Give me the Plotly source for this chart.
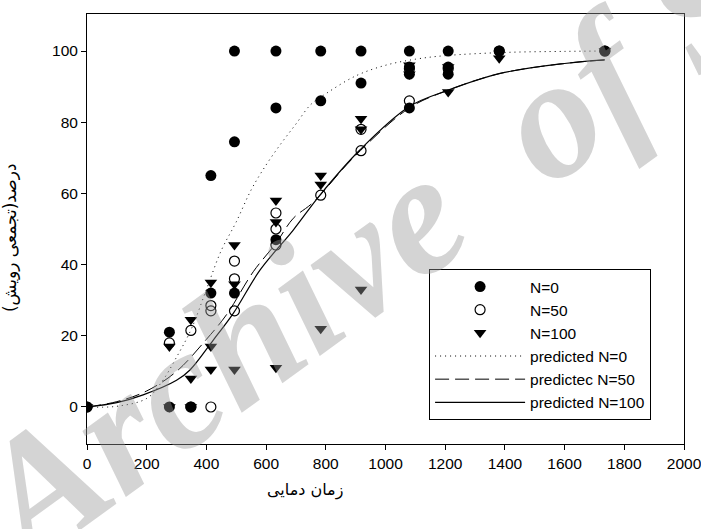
import plotly.graph_objects as go

# ---- observed data ----
n0_x = [0, 276, 276, 348, 415, 415, 494, 494, 494, 633, 633, 633, 783, 783, 918, 918,
        1080, 1080, 1080, 1080, 1210, 1210, 1210, 1381, 1735]
n0_y = [0, 21, 0, 0, 65, 32, 100, 74.5, 32, 100, 84, 47, 100, 86, 100, 91,
        100, 95.5, 93.5, 84, 100, 95.5, 93.5, 100, 100]

n50_x = [0, 276, 348, 348, 415, 415, 415, 494, 494, 494, 633, 633, 633, 783, 918, 918,
         1080, 1080, 1210, 1381, 1735]
n50_y = [0, 18, 21.5, 0, 28.5, 27, 0, 41, 36, 27, 54.5, 50, 45.5, 59.5, 72, 78,
         86, 95, 95, 100, 100]

n100_x = [0, 276, 276, 348, 348, 348, 415, 415, 415, 494, 494, 494, 633, 633, 633,
          783, 783, 783, 918, 918, 918, 1080, 1080, 1210, 1210, 1381, 1735]
n100_y = [0, 17, 0, 24.5, 8, 0, 35, 17, 10.5, 45.5, 34.5, 10.5, 58, 52, 11,
          65, 62.5, 22, 81, 78, 33, 96, 93.5, 95.5, 88.5, 98, 100]

# ---- predicted curves ----
p0_x = [0, 100, 200, 250, 300, 350, 400, 450, 500, 550, 600, 650, 700, 750, 800, 900,
        1000, 1100, 1200, 1400, 1600, 1735]
p0_y = [0, 0.2, 2.4, 7, 14, 22, 33, 44, 52, 61, 68, 74, 79.5, 85, 88, 93,
        96, 97.7, 98.7, 99.6, 99.9, 100]

p50_x = [0, 100, 200, 300, 400, 468, 557, 633, 691, 758, 892, 1080, 1210, 1384, 1600, 1735]
p50_y = [0, 1.5, 4.5, 10, 19, 26, 38, 46, 53, 57.5, 70, 84, 89, 93.7, 96.5, 97.5]

p100_x = [0, 100, 188, 300, 345, 423, 490, 580, 691, 781, 914, 1080, 1210, 1384, 1600, 1735]
p100_y = [0, 1.2, 3.4, 7.5, 10.4, 18.8, 26.3, 38.5, 49.7, 59.6, 72.2, 84.4, 89, 93.7, 96.5, 97.5]

x_ticks = [0, 200, 400, 600, 800, 1000, 1200, 1400, 1600, 1800, 2000]
y_ticks = [0, 20, 40, 60, 80, 100]

FONT = "Liberation Sans, Arial, sans-serif"

fig = go.Figure()
fig.add_trace(go.Scatter(x=n0_x, y=n0_y, mode="markers", name="N=0",
                         marker=dict(symbol="circle", size=11, color="black")))
fig.add_trace(go.Scatter(x=n50_x, y=n50_y, mode="markers", name="N=50",
                         marker=dict(symbol="circle-open", size=10, color="black",
                                     line=dict(width=1.2, color="black"))))
fig.add_trace(go.Scatter(x=n100_x, y=n100_y, mode="markers", name="N=100",
                         marker=dict(symbol="triangle-down", size=11, color="black")))
fig.add_trace(go.Scatter(x=p0_x, y=p0_y, mode="lines", name="predicted N=0",
                         line=dict(color="black", width=1, dash="1px,4px", shape="spline")))
fig.add_trace(go.Scatter(x=p50_x, y=p50_y, mode="lines", name="predictec N=50",
                         line=dict(color="black", width=1, dash="14px,6px", shape="spline")))
fig.add_trace(go.Scatter(x=p100_x, y=p100_y, mode="lines", name="predicted N=100",
                         line=dict(color="black", width=1.2, shape="spline")))

axis_common = dict(showline=True, linecolor="black", linewidth=1, mirror=True,
                   ticks="outside", ticklen=5, tickcolor="black", showgrid=False,
                   zeroline=False, ticklabeloverflow="allow", automargin=False,
                   tickfont=dict(family=FONT, size=15.5, color="black"))

fig.update_layout(
    width=701, height=529,
    margin=dict(l=87, r=17, t=14, b=85, autoexpand=False),
    paper_bgcolor="white", plot_bgcolor="white",
    font=dict(family=FONT, size=15.5, color="black"),
    xaxis=dict(range=[0, 2000], tickvals=x_ticks, **axis_common),
    yaxis=dict(range=[-10.4, 110.4], tickvals=y_ticks, **axis_common),
    legend=dict(x=0.573, y=0.407, xanchor="left", yanchor="top",
                bordercolor="black", borderwidth=1, bgcolor="white",
                font=dict(family=FONT, size=15.5, color="black"),
                itemwidth=90, tracegroupgap=0),
    showlegend=True,
)

fig.add_annotation(text="زمان دمایی", xref="paper", yref="paper", x=0.365, y=-0.135,
                   showarrow=False, font=dict(family="DejaVu Sans", size=16, color="black"))
fig.add_annotation(text="درصد(تجمعی رویش)", xref="paper", yref="paper", x=-0.15, y=0.48,
                   textangle=-90, showarrow=False,
                   font=dict(family="DejaVu Sans", size=17, color="black"))

# watermark
fig.add_annotation(text="Archive\u00a0\u00a0of SID", xref="paper", yref="paper", x=0.596, y=0.578,
                   textangle=-36, showarrow=False,
                   font=dict(family="Liberation Serif", size=172, color="rgba(152,152,152,0.42)",
                             weight="bold", style="italic"))

fig.write_html("out.html")
